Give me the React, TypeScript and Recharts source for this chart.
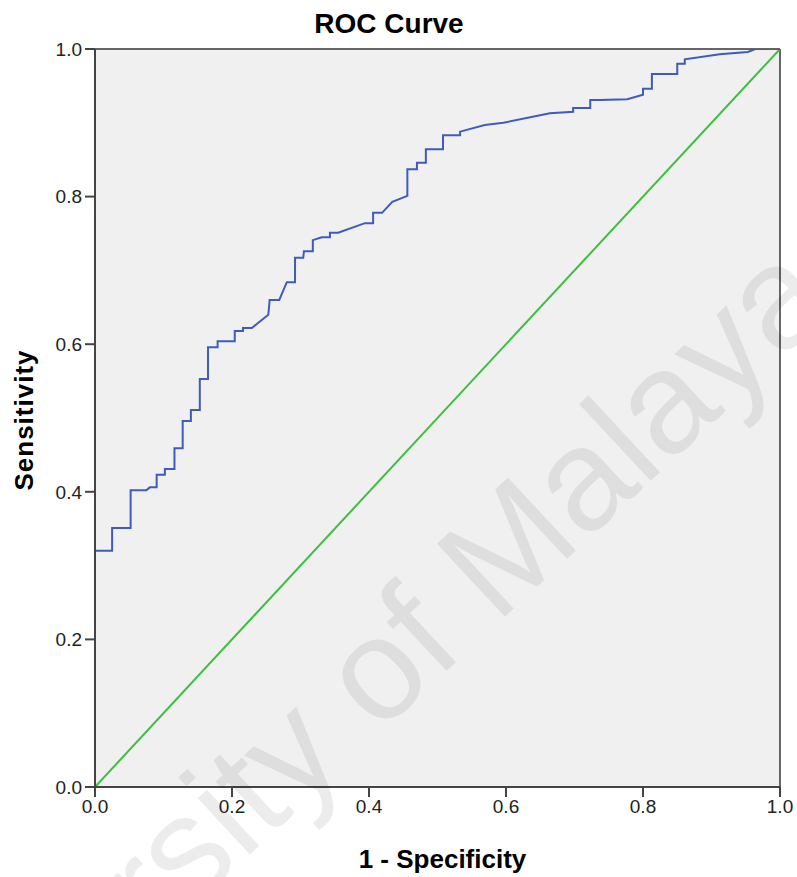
import React from "react";
import { LineChart, Line, XAxis, YAxis, ReferenceArea, ReferenceLine } from "recharts";

// ROC curve corner points (1 - specificity, sensitivity)
const fpr = [
  0, 0, 0.025, 0.025, 0.052, 0.052, 0.075, 0.08, 0.09, 0.09, 0.102, 0.102, 0.116, 0.116,
  0.128, 0.128, 0.14, 0.14, 0.153, 0.153, 0.165, 0.165, 0.179, 0.179, 0.204, 0.204,
  0.216, 0.216, 0.229, 0.253, 0.255, 0.269, 0.28, 0.292, 0.292, 0.304, 0.305, 0.318,
  0.318, 0.331, 0.343, 0.343, 0.355, 0.394, 0.406, 0.406, 0.419, 0.434, 0.456, 0.456,
  0.47, 0.47, 0.483, 0.483, 0.508, 0.508, 0.533, 0.533, 0.569, 0.596, 0.664, 0.698,
  0.698, 0.723, 0.723, 0.737, 0.777, 0.8, 0.8, 0.813, 0.813, 0.85, 0.85, 0.861, 0.861,
  0.912, 0.953, 0.964, 1,
];
const tpr = [
  0, 0.32, 0.32, 0.351, 0.351, 0.402, 0.402, 0.406, 0.406, 0.423, 0.423, 0.431, 0.431, 0.459,
  0.459, 0.496, 0.496, 0.511, 0.511, 0.553, 0.553, 0.596, 0.596, 0.604, 0.604, 0.618,
  0.618, 0.622, 0.622, 0.64, 0.66, 0.66, 0.684, 0.684, 0.717, 0.717, 0.726, 0.726,
  0.741, 0.745, 0.745, 0.751, 0.751, 0.764, 0.764, 0.778, 0.778, 0.793, 0.801, 0.837,
  0.837, 0.846, 0.846, 0.864, 0.864, 0.883, 0.883, 0.888, 0.897, 0.9, 0.913, 0.915,
  0.92, 0.92, 0.931, 0.931, 0.932, 0.938, 0.946, 0.946, 0.966, 0.966, 0.98, 0.98, 0.986,
  0.993, 0.996, 1, 1,
];
const refX = [0, 1];
const refY = [0, 1];
const ticks = [0, 0.2, 0.4, 0.6, 0.8, 1.0];

const rocData = fpr.map((x, i) => ({ x, y: tpr[i] }));
const refData = refX.map((x, i) => ({ x, y: refY[i] }));

const FONT = "'Liberation Sans', Arial, sans-serif";

export default function App() {
  return (
    <div style={{ position: "absolute", left: 0, top: 0, width: 797, height: 877, background: "#fff", overflow: "visible" }}>
      <LineChart width={797} height={877} margin={{ top: 49, right: 17, bottom: 0, left: 0 }} style={{ overflow: "visible" }}>
        <ReferenceArea x1={0} x2={1} y1={0} y2={1} fill="#f0f0f0" fillOpacity={1} stroke="none" />
        <XAxis
          type="number"
          dataKey="x"
          domain={[0, 1]}
          ticks={ticks}
          tickFormatter={(v: number) => v.toFixed(1)}
          height={90}
          tickSize={10}
          tickMargin={3}
          stroke="#444"
          strokeWidth={2}
          tick={{ fill: "#222", fontSize: 19, fontFamily: FONT }}
          allowDataOverflow
          label={{
            content: (p: any) => (
              <text
                x={p.viewBox.x + p.viewBox.width / 2 + 5}
                y={p.viewBox.y + 81}
                textAnchor="middle"
                fontFamily={FONT}
                fontWeight="bold"
                fontSize={26}
                fill="#000"
              >
                1 - Specificity
              </text>
            ),
          }}
        />
        <YAxis
          type="number"
          dataKey="y"
          domain={[0, 1]}
          ticks={ticks}
          tickFormatter={(v: number) => v.toFixed(1)}
          width={95}
          tickSize={10}
          tickMargin={3}
          stroke="#444"
          strokeWidth={2}
          tick={{ fill: "#222", fontSize: 19, fontFamily: FONT }}
          allowDataOverflow
          label={{
            content: (p: any) => (
              <text
                x={0}
                y={0}
                transform={`translate(33, ${p.viewBox.y + p.viewBox.height / 2 + 2}) rotate(-90)`}
                textAnchor="middle"
                fontFamily={FONT}
                fontWeight="bold"
                fontSize={26}
                letterSpacing={1}
                fill="#000"
              >
                Sensitivity
              </text>
            ),
          }}
        />
        <ReferenceLine y={1} stroke="#666" strokeWidth={2} />
        <ReferenceLine x={1} stroke="#666" strokeWidth={2} />
        <Line
          data={refData}
          dataKey="y"
          type="linear"
          stroke="#3dbf3d"
          strokeWidth={2}
          dot={false}
          isAnimationActive={false}
        />
        <Line
          data={rocData}
          dataKey="y"
          type="linear"
          stroke="#3e5bbd"
          strokeWidth={2}
          dot={false}
          isAnimationActive={false}
        />
      </LineChart>
      <svg
        width={797}
        height={877}
        style={{ position: "absolute", left: 0, top: 0, pointerEvents: "none" }}
      >
        <text
          x={389}
          y={33}
          textAnchor="middle"
          fontFamily={FONT}
          fontWeight="bold"
          fontSize={28}
          fill="#000"
        >
          ROC Curve
        </text>
        <text
          x={838}
          y={306}
          transform="rotate(-43, 838, 306)"
          textAnchor="end"
          fontFamily={FONT}
          fontSize={145}
          fill="#000"
          fillOpacity={0.075}
        >
          University of Malaya
        </text>
      </svg>
    </div>
  );
}
